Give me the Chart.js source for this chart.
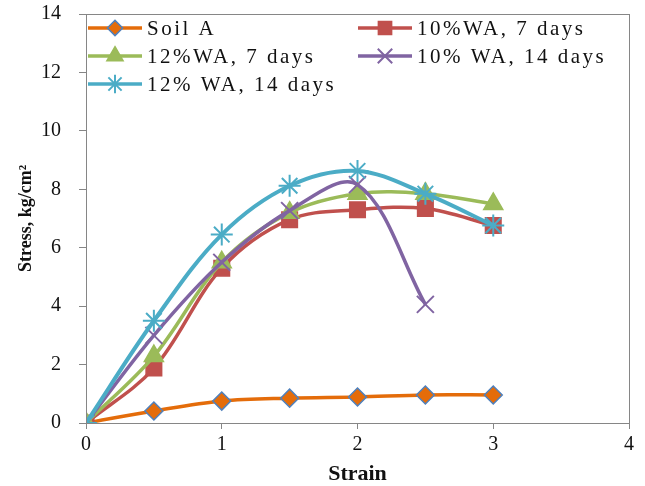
<!DOCTYPE html>
<html>
<head>
<meta charset="utf-8">
<script src="https://cdn.jsdelivr.net/npm/chart.js@4/dist/chart.umd.min.js"></script>
<style>
  body { margin: 0; background: #fff; }
</style>
</head>
<body>
<canvas id="stressCanvas" width="645" height="486"></canvas>
<script>
const strain = [0, 0.5, 1, 1.5, 2, 2.5, 3];
const soilA = [0, 0.41, 0.75, 0.85, 0.89, 0.96, 0.96];
const wa10d7 = [0, 1.88, 5.3, 6.96, 7.3, 7.34, 6.76];
const wa12d7 = [0, 2.29, 5.5, 7.2, 7.85, 7.85, 7.5];
const wa10d14 = [0, 3.0, 5.5, 7.27, 8.16, 4.06];
const wa12d14 = [0, 3.5, 6.45, 8.12, 8.63, 7.85, 6.76];
const xTicks = [0, 1, 2, 3, 4];
const yTicks = [0, 2, 4, 6, 8, 10, 12, 14];

const serif = "'Liberation Serif', 'Times New Roman', serif";

function pts(ys) {
  return ys.map((y, i) => ({ x: strain[i], y: y }));
}

const series = [
  { label: "Soil A", data: soilA, color: "#E46C0A", border: "#4F81BD", style: "rectRot", r: 9 },
  { label: "10%WA, 7 days", data: wa10d7, color: "#C0504D", border: "#C0504D", style: "rect", r: 11 },
  { label: "12%WA, 7 days", data: wa12d7, color: "#9BBB59", border: "#9BBB59", style: "triangle", r: 11 },
  { label: "10% WA, 14 days", data: wa10d14, color: "#8064A2", border: "#8064A2", style: "crossRot", r: 12 },
  { label: "12% WA, 14 days", data: wa12d14, color: "#4BACC6", border: "#4BACC6", style: "star", r: 11 }
];

const thin = s => s.style === "crossRot" || s.style === "star";

const datasets = series.map((s, i) => ({
  label: s.label,
  data: pts(s.data),
  borderColor: s.color,
  backgroundColor: s.color,
  borderWidth: i === 4 ? 4 : 3.5,
  tension: 0.35,
  pointStyle: s.style,
  pointRadius: s.r,
  pointBackgroundColor: s.color,
  pointBorderColor: s.border,
  pointBorderWidth: thin(s) ? 2 : 1.5,
  order: series.length - i
}));

// plot box around the chart area
const boxPlugin = {
  id: "box",
  afterDraw(chart) {
    const a = chart.chartArea;
    const c = chart.ctx;
    c.save();
    c.strokeStyle = "#868686";
    c.lineWidth = 1;
    c.strokeRect(Math.round(a.left) + 0.5, Math.round(a.top) + 0.5, Math.round(a.right - a.left), Math.round(a.bottom - a.top));
    c.restore();
  }
};

// two column legend inside the plot, like the excel one
const legendPlugin = {
  id: "colLegend",
  afterDraw(chart) {
    const a = chart.chartArea;
    const c = chart.ctx;
    const cols = [a.left + 2, a.left + 272];
    const before = c.letterSpacing;
    c.save();
    c.font = "21px " + serif;
    c.letterSpacing = "2.5px";
    c.textBaseline = "middle";
    series.forEach((s, i) => {
      const col = cols[i % 2];
      const y = a.top + 14 + Math.floor(i / 2) * 28;
      c.strokeStyle = s.color;
      c.lineWidth = 3.5;
      c.beginPath();
      c.moveTo(col, y);
      c.lineTo(col + 54, y);
      c.stroke();
      c.fillStyle = s.color;
      c.strokeStyle = s.border;
      c.lineWidth = thin(s) ? 2 : 1.5;
      Chart.helpers.drawPoint(c, { pointStyle: s.style, radius: s.r * 0.85, rotation: 0, borderWidth: c.lineWidth }, col + 27, y);
      c.fillStyle = "#111";
      c.fillText(s.label, col + 59, y + 1);
    });
    c.restore();
    c.letterSpacing = before || "0px";
  }
};

const config = {
  type: "line",
  data: { datasets: datasets },
  options: {
    responsive: false,
    animation: false,
    layout: { padding: { top: 13, right: 16, left: 0, bottom: 0 } },
    plugins: { legend: { display: false }, tooltip: { enabled: false } },
    scales: {
      x: {
        type: "linear",
        min: 0,
        max: 4,
        afterBuildTicks(scale) { scale.ticks = xTicks.map(v => ({ value: v })); },
        afterFit(scale) { scale.height = 63; scale.paddingLeft = 0; scale.paddingRight = 0; },
        ticks: { color: "#111", font: { family: serif, size: 20 }, padding: 4 },
        grid: { drawOnChartArea: false, color: "#868686", tickLength: 6 },
        border: { color: "#868686" },
        title: { display: true, text: "Strain", color: "#111", font: { family: serif, size: 22, weight: "bold", lineHeight: 1 }, padding: { top: 0, bottom: 1 } }
      },
      y: {
        min: 0,
        max: 14,
        afterBuildTicks(scale) { scale.ticks = yTicks.map(v => ({ value: v })); },
        afterFit(scale) { scale.width = 86; scale.paddingTop = 0; scale.paddingBottom = 0; },
        ticks: { color: "#111", font: { family: serif, size: 20 }, padding: 18 },
        grid: { drawOnChartArea: false, color: "#868686", tickLength: 7 },
        border: { color: "#868686" },
        title: { display: true, text: "Stress, kg/cm²", color: "#111", font: { family: serif, size: 18, weight: "bold" }, padding: { top: 16, bottom: 4 } }
      }
    }
  },
  plugins: [boxPlugin, legendPlugin]
};

const canvas = document.getElementById("stressCanvas");
if (canvas) {
  new Chart(canvas.getContext("2d"), config);
} else {
  console.error("no canvas");
}
</script>
</body>
</html>
